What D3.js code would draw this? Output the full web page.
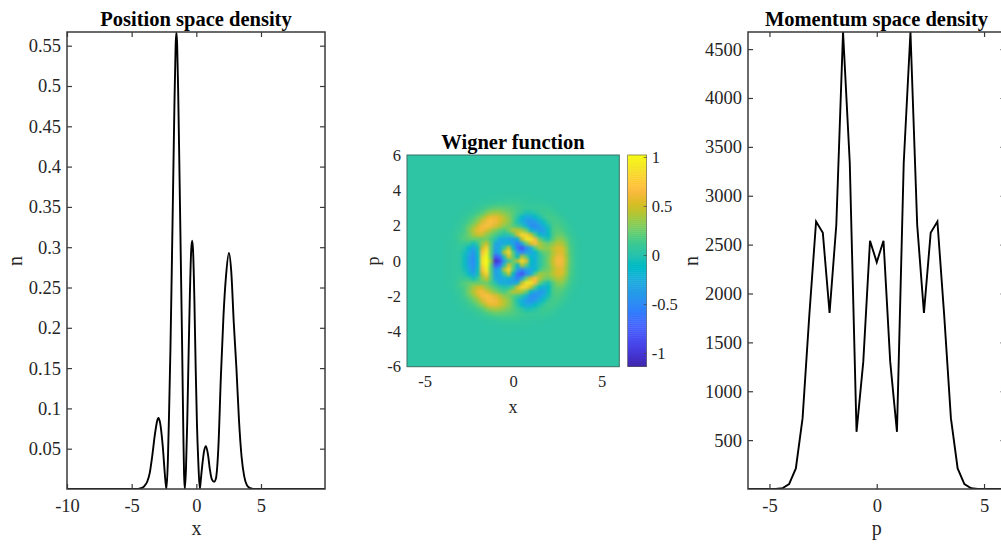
<!DOCTYPE html>
<html><head><meta charset="utf-8">
<script src="https://cdn.jsdelivr.net/npm/d3@7/dist/d3.min.js"></script>
<style>html,body{margin:0;padding:0;background:#fff;overflow:hidden}svg{display:block}text{font-family:"Liberation Serif","Times New Roman",serif;fill:#262626}</style>
</head><body><script>
// Position space density
const posX=[-10,-8,-6,-5,-4.6,-4.4,-4.2,-4.0,-3.8,-3.6,-3.4,-3.2,-3.0,-2.93,-2.8,-2.6,-2.4,-2.31,-2.2,-2.1,-2.0,-1.9,-1.8,-1.7,-1.6,-1.54,-1.48,-1.4,-1.3,-1.2,-1.1,-1.0,-0.95,-0.89,-0.8,-0.7,-0.6,-0.5,-0.4,-0.32,-0.25,-0.15,-0.05,0.05,0.15,0.27,0.35,0.45,0.6,0.74,0.9,1.05,1.2,1.38,1.5,1.7,1.9,2.1,2.3,2.52,2.7,2.9,3.1,3.3,3.5,3.7,3.9,4.1,4.3,4.5,5,6,8,9.95];
const posN=[0,0,0,0,0,0.0005,0.0015,0.004,0.009,0.02,0.042,0.068,0.086,0.088,0.082,0.054,0.012,0,0.035,0.1,0.175,0.27,0.37,0.47,0.55,0.567,0.55,0.49,0.39,0.285,0.18,0.065,0.02,0,0.025,0.085,0.165,0.24,0.295,0.308,0.295,0.235,0.15,0.08,0.035,0,0.012,0.028,0.047,0.053,0.043,0.024,0.012,0.009,0.012,0.05,0.14,0.215,0.265,0.293,0.27,0.205,0.15,0.085,0.04,0.016,0.005,0.0015,0.0005,0,0,0,0,0];
const posXTicks=[-10,-5,0,5];
const posYTicks=[0.05,0.1,0.15,0.2,0.25,0.3,0.35,0.4,0.45,0.5,0.55];
// Momentum space density
const momP=[-6.283,-5.969,-5.655,-5.341,-5.027,-4.712,-4.398,-4.084,-3.770,-3.456,-3.142,-2.827,-2.513,-2.199,-1.885,-1.571,-1.257,-0.942,-0.628,-0.314,0,0.314,0.628,0.942,1.257,1.571,1.885,2.199,2.513,2.827,3.142,3.456,3.770,4.084,4.398,4.712,5.027,5.341,5.655,5.969,6.283];
const momN=[0,0,0,0,0,1,8,50,210,725,1780,2736,2620,1800,2700,4675,3335,585,1300,2540,2320,2540,1300,585,3335,4675,2700,1800,2620,2736,1780,725,210,50,8,1,0,0,0,0,0];
const momXTicks=[-5,0,5];
const momYTicks=[500,1000,1500,2000,2500,3000,3500,4000,4500];
// Wigner function: values in hundredths, rows p = 0 to 3.75 (the picture mirrors about p = 0), columns x = -3.75 to 3.75, step 0.25
const wigX=[-3.75,-3.5,-3.25,-3,-2.75,-2.5,-2.25,-2,-1.75,-1.5,-1.25,-1,-0.75,-0.5,-0.25,0,0.25,0.5,0.75,1,1.25,1.5,1.75,2,2.25,2.5,2.75,3,3.25,3.5,3.75];
const wigP=[0,0.25,0.5,0.75,1,1.25,1.5,1.75,2,2.25,2.5,2.75,3,3.25,3.5,3.75];
const wigGrid=[
[1,2,3,0,-12,-40,-55,-22,85,102,30,-110,-95,-40,0,20,45,80,55,-15,-25,0,12,25,45,62,60,38,15,5,1],
[1,2,3,0,-12,-38,-52,-20,80,98,15,-85,-68,-5,50,20,-15,40,15,-20,-28,-3,12,23,42,58,58,36,14,5,1],
[1,2,3,1,-9,-31,-48,-12,65,90,15,-45,-28,40,80,15,-40,-55,-40,-35,-20,5,20,23,38,50,52,34,13,5,1],
[1,2,3,3,-2,-18,-38,-10,45,75,15,-40,-28,5,40,-15,-70,-90,-55,-28,15,35,30,30,40,52,50,32,12,5,1],
[1,2,3,6,5,3,-10,5,30,45,15,-35,-37,-30,-22,-40,-65,-30,20,50,65,40,25,22,30,40,38,25,10,4,1],
[1,2,4,10,15,18,20,20,20,22,10,-3,-30,-30,-38,-38,-22,45,85,85,60,18,0,-8,15,28,28,18,8,3,1],
[0,2,5,9,14,22,35,45,45,30,22,12,3,-5,-2,12,50,80,75,45,10,-15,-30,-15,12,20,20,12,6,2,0],
[0,1,3,6,12,25,40,55,60,50,35,27,17,12,22,40,40,35,20,-20,-35,-45,-40,-13,12,15,13,8,3,1,0],
[0,0,2,5,10,20,30,45,60,65,60,52,40,30,25,15,10,-5,-25,-50,-55,-40,-25,-8,10,13,10,6,2,0,0],
[0,0,1,3,6,12,20,30,48,60,65,60,50,40,30,15,-8,-28,-42,-50,-42,-25,-10,6,10,10,7,3,1,0,0],
[0,0,0,2,4,7,12,20,30,45,55,55,48,38,28,15,0,-20,-33,-28,-15,-6,5,10,10,7,4,1,0,0,0],
[0,0,0,1,2,3,6,10,15,25,32,35,32,28,22,16,8,2,-8,-7,-3,5,8,8,6,3,1,0,0,0,0],
[0,0,0,0,1,1,2,4,7,11,15,18,18,17,15,13,10,7,5,5,5,6,6,5,3,1,0,0,0,0,0],
[0,0,0,0,0,0,1,2,3,4,6,7,8,8,8,8,7,5,4,3,3,3,3,2,1,0,0,0,0,0,0],
[0,0,0,0,0,0,0,0,0,1,2,2,2,3,3,3,3,2,2,2,1,1,0,0,0,0,0,0,0,0,0],
[0,0,0,0,0,0,0,0,0,0,0,0,1,1,1,1,1,1,1,0,0,0,0,0,0,0,0,0,0,0,0]
];
const wigBase=0.04;
const wigXTicks=[-5,0,5];
const wigYTicks=[-6,-4,-2,0,2,4,6];
const cbTicks=[-1,-0.5,0,0.5,1];
const parula=[[62,38,168],[64,42,180],[66,46,192],[67,50,203],[69,55,213],[70,60,222],[71,65,229],[71,71,235],[72,77,240],[72,82,244],[71,88,248],[70,94,251],[69,99,253],[66,105,254],[62,111,255],[56,117,254],[50,124,252],[47,129,250],[46,135,247],[45,140,243],[43,145,239],[39,151,235],[37,155,232],[35,160,229],[32,165,227],[28,169,223],[24,173,219],[18,177,214],[8,181,208],[1,184,202],[2,186,195],[11,189,189],[25,191,182],[36,193,174],[44,196,167],[49,198,159],[55,200,151],[63,202,142],[74,203,132],[87,204,122],[100,205,111],[114,205,100],[129,204,89],[143,203,78],[157,201,67],[171,199,57],[185,196,49],[197,194,42],[209,191,39],[220,189,41],[230,187,45],[240,186,54],[248,186,61],[254,190,60],[254,195,56],[254,201,52],[252,207,48],[250,214,45],[247,220,42],[245,227,39],[245,233,36],[246,239,32],[247,245,27],[249,251,21]];

const svg=d3.select("body").append("svg").attr("width",1001).attr("height",544);
const spine="#3a3a3a";
const fmt=d=>String(d);
function panel(cfg){
  const g=svg.append("g");
  const [x0,x1]=cfg.xr,[y1,y0]=cfg.yr;
  const x=d3.scaleLinear().domain(cfg.xd).range(cfg.xr);
  const y=d3.scaleLinear().domain(cfg.yd).range(cfg.yr);
  const id="clip"+cfg.id;
  svg.append("clipPath").attr("id",id).append("rect").attr("x",x0).attr("y",y0).attr("width",x1-x0).attr("height",y1-y0);
  const line=d3.line().x((d,i)=>x(cfg.xs[i])).y(d=>y(d)).curve(cfg.curve);
  g.append("path").datum(cfg.ys).attr("d",line).attr("fill","none").attr("stroke","#000").attr("stroke-width",1.9).attr("clip-path",`url(#${id})`);
  const mk=(gen,tx,ty)=>{const a=g.append("g").attr("transform",`translate(${tx},${ty})`).call(gen);a.select(".domain").remove();a.selectAll("line").attr("stroke",spine).attr("stroke-width",1.2);a.selectAll("text").attr("font-size",18.5).style("fill","#262626").attr("font-family",null);return a;};
  mk(d3.axisBottom(x).tickValues(cfg.xt).tickSizeInner(-5).tickSizeOuter(0).tickPadding(10).tickFormat(fmt),0,y1);
  mk(d3.axisTop(x).tickValues(cfg.xt).tickSizeInner(-5).tickSizeOuter(0).tickFormat(""),0,y0);
  mk(d3.axisLeft(y).tickValues(cfg.yt).tickSizeInner(-5).tickSizeOuter(0).tickPadding(6).tickFormat(fmt),x0,0);
  mk(d3.axisRight(y).tickValues(cfg.yt).tickSizeInner(-5).tickSizeOuter(0).tickFormat(""),x1,0);
  g.append("rect").attr("x",x0).attr("y",y0).attr("width",x1-x0).attr("height",y1-y0).attr("fill","none").attr("stroke",spine).attr("stroke-width",1.5);
  g.append("text").attr("x",cfg.tx).attr("y",26).attr("text-anchor","middle").attr("font-weight","bold").attr("font-size",20.5).style("fill","#000").text(cfg.title);
  g.append("text").attr("x",cfg.lx).attr("y",535).attr("text-anchor","middle").attr("font-size",20).text(cfg.xl);
  g.append("text").attr("transform",`translate(${cfg.ly},261) rotate(-90)`).attr("text-anchor","middle").attr("font-size",20).text("n");
}
panel({id:"a",xr:[67,325],yr:[489,32],xd:[-10,9.95],yd:[0,0.567],xs:posX,ys:posN,xt:posXTicks,yt:posYTicks,curve:d3.curveMonotoneX,title:"Position space density",xl:"x",tx:196,lx:196.5,ly:22});
panel({id:"b",xr:[748,1005.5],yr:[489,32],xd:[-6,6],yd:[0,4675],xs:momP,ys:momN,xt:momXTicks,yt:momYTicks,curve:d3.curveLinear,title:"Momentum space density",xl:"p",tx:876.5,lx:876.7,ly:698});

// Wigner panel
const wx=d3.scaleLinear().domain([-6,6]).range([407,619.3]);
const wy=d3.scaleLinear().domain([-6,6]).range([366.7,155]);
const cDomain=[-1.14,1.02];
const color=d3.scaleLinear().domain(parula.map((c,i)=>cDomain[0]+(cDomain[1]-cDomain[0])*i/(parula.length-1))).range(parula.map(c=>`rgb(${c})`)).clamp(true);
const defs=svg.append("defs");
defs.append("filter").attr("id","soft").attr("x","-5%").attr("y","-5%").attr("width","110%").attr("height","110%").attr("color-interpolation-filters","sRGB").append("feGaussianBlur").attr("stdDeviation",1.6);
defs.append("clipPath").attr("id","wclip").append("rect").attr("x",407).attr("y",155).attr("width",212.3).attr("height",211.7);
const cells=[];
wigP.forEach((p,r)=>{wigX.forEach((xv,c)=>{cells.push({x:xv,p:p,v:wigGrid[r][c]/100}); if(p>0)cells.push({x:xv,p:-p,v:wigGrid[r][c]/100});});});
const wOuter=svg.append("g").attr("clip-path","url(#wclip)");
const wg=wOuter.append("g").attr("filter","url(#soft)");
wg.append("rect").attr("x",395).attr("y",143).attr("width",236).attr("height",236).attr("fill",color(wigBase));
wg.selectAll("rect.c").data(cells).join("rect").attr("class","c")
  .attr("x",d=>wx(d.x-0.125)).attr("y",d=>wy(d.p+0.125))
  .attr("width",wx(0.25)-wx(0)+0.3).attr("height",wy(0)-wy(0.25)+0.3)
  .attr("fill",d=>color(d.v+wigBase));
svg.append("rect").attr("x",407).attr("y",155).attr("width",212.3).attr("height",211.7).attr("fill","none").attr("stroke","#3f6f66").attr("stroke-width",1);
const wa=svg.append("g");
const styleW=a=>{a.select(".domain").remove();a.selectAll("line").remove();a.selectAll("text").attr("font-size",16.5).style("fill","#262626");};
wa.append("g").attr("transform","translate(0,366.7)").call(d3.axisBottom(wx).tickValues(wigXTicks).tickSize(0).tickPadding(9).tickFormat(fmt)).call(styleW);
wa.append("g").attr("transform","translate(407,0)").call(d3.axisLeft(wy).tickValues(wigYTicks).tickSize(0).tickPadding(6).tickFormat(fmt)).call(styleW);
wa.append("text").attr("x",513).attr("y",148.5).attr("text-anchor","middle").attr("font-weight","bold").attr("font-size",20.5).style("fill","#000").text("Wigner function");
wa.append("text").attr("x",513).attr("y",412.7).attr("text-anchor","middle").attr("font-size",18).text("x");
wa.append("text").attr("transform","translate(379,261) rotate(-90)").attr("text-anchor","middle").attr("font-size",18).text("p");
// colour bar
const cy=d3.scaleLinear().domain(cDomain).range([366.7,155]);
const levels=d3.range(0,108).map(i=>cDomain[0]+(cDomain[1]-cDomain[0])*(i+0.5)/108);
const cbg=svg.append("g");
cbg.selectAll("rect").data(levels).join("rect").attr("x",627.7).attr("width",19).attr("y",d=>cy(d)-1.2).attr("height",2.4).attr("fill",d=>color(d));
cbg.append("rect").attr("x",627.7).attr("y",155).attr("width",19).attr("height",211.7).attr("fill","none").attr("stroke","#555").attr("stroke-width",0.6);
const cba=svg.append("g").attr("transform","translate(646.7,0)").call(d3.axisRight(cy).tickValues(cbTicks).tickSizeInner(-3).tickSizeOuter(0).tickPadding(5).tickFormat(fmt));
cba.select(".domain").remove();cba.selectAll("line").attr("stroke","#444").attr("stroke-width",0.7);cba.selectAll("text").attr("font-size",16.5).style("fill","#262626");
</script></body></html>
